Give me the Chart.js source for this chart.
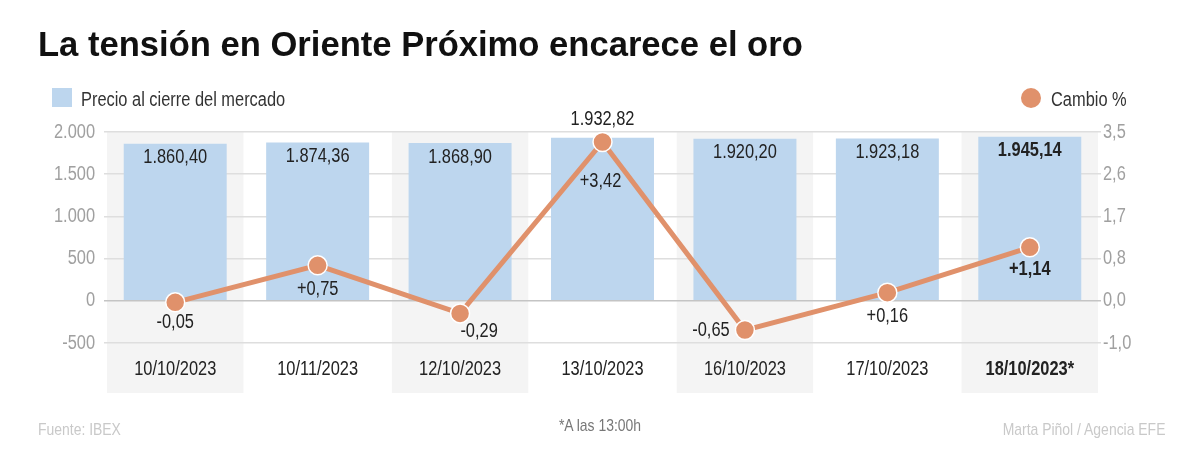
<!DOCTYPE html>
<html><head><meta charset="utf-8">
<script src="https://cdn.jsdelivr.net/npm/chart.js@4.4.1/dist/chart.umd.min.js"></script>
<style>
html,body{margin:0;padding:0;background:#fff}
body{width:1200px;height:450px;overflow:hidden;position:relative;font-family:"Liberation Sans",Arial,sans-serif}
#c{position:absolute;left:0;top:0}
.t{position:absolute;white-space:nowrap;line-height:1}
.n{transform:scaleX(0.82);transform-origin:left center}
.nr{transform:scaleX(0.82);transform-origin:right center}
.nc{transform:translateX(-50%) scaleX(0.82)}
</style></head><body>
<canvas id="c" width="1200" height="450"></canvas>
<div class="t" style="left:38px;top:27px;font-weight:bold;font-size:34.6px;color:#111">La tensión en Oriente Próximo encarece el oro</div>
<div class="t" style="left:52px;top:88px;width:20px;height:19px;background:#bdd6ee"></div>
<div class="t n" style="left:81px;top:89px;font-size:20px;color:#333">Precio al cierre del mercado</div>
<div class="t" style="left:1021px;top:88px;width:20px;height:20px;border-radius:50%;background:#e0916b"></div>
<div class="t n" style="left:1051px;top:89px;font-size:20px;color:#333">Cambio %</div>
<div class="t n" style="left:38px;top:421px;font-size:17px;color:#c9c9c9">Fuente: IBEX</div>
<div class="t nc" style="left:600px;top:417px;font-size:17px;color:#777">*A las 13:00h</div>
<div class="t nr" style="right:35px;top:421px;font-size:17px;color:#c9c9c9">Marta Piñol / Agencia EFE</div>
<script>
const categories = ["10/10/2023","10/11/2023","12/10/2023","13/10/2023","16/10/2023","17/10/2023","18/10/2023*"];
const closePrices = [1860.40, 1874.36, 1868.90, 1932.82, 1920.20, 1923.18, 1945.14];
const changePct = [-0.05, 0.75, -0.29, 3.42, -0.65, 0.16, 1.14];
const leftTickLabels = ["-500","0","500","1.000","1.500","2.000"];
const rightTickLabels = ["-1,0","0,0","0,8","1,7","2,6","3,5"];

const FONT = '"Liberation Sans",Arial,sans-serif';
const BAR = '#bdd6ee', LINE = '#e0916b';
const SX = 0.82;

function fmtPrice(v){
  const [i,d] = v.toFixed(2).split('.');
  return i.replace(/\B(?=(\d{3})+(?!\d))/g,'.') + ',' + d;
}
function fmtPct(v){
  const s = Math.abs(v).toFixed(2).replace('.',',');
  return (v < 0 ? '-' : '+') + s;
}
function narrowText(ctx, text, x, y, align, font, color){
  ctx.save();
  ctx.translate(x, y);
  ctx.scale(SX, 1);
  ctx.font = font;
  ctx.fillStyle = color;
  ctx.textAlign = align;
  ctx.textBaseline = 'middle';
  ctx.fillText(text, 0, 0);
  ctx.restore();
}

const bandPlugin = {
  id:'bands',
  beforeDraw(chart){
    const {ctx, chartArea} = chart;
    const x = chart.scales.x;
    const w = x.width / categories.length;
    ctx.save();
    ctx.fillStyle = '#f4f4f4';
    categories.forEach((c,i)=>{
      if (i % 2 === 0){
        const cx = x.getPixelForValue(i);
        ctx.fillRect(cx - w/2 + 3, chartArea.top, w - 6, 393 - chartArea.top);
      }
    });
    ctx.restore();
  }
};

const tickPlugin = {
  id:'narrowTicks',
  afterDraw(chart){
    const {ctx, chartArea} = chart;
    const last = categories.length - 1;
    const y = chart.scales.y, y1 = chart.scales.y1, x = chart.scales.x;
    y.ticks.forEach((t,i)=>{
      narrowText(ctx, leftTickLabels[i], chartArea.left - 9, y.getPixelForValue(t.value), 'right', '20px ' + FONT, '#a0a0a0');
    });
    y1.ticks.forEach((t,i)=>{
      narrowText(ctx, rightTickLabels[i], chartArea.right + 2, y1.getPixelForValue(t.value), 'left', '20px ' + FONT, '#a0a0a0');
    });
    categories.forEach((c,i)=>{
      narrowText(ctx, c, x.getPixelForValue(i), chartArea.bottom + 26, 'center', (i === last ? 'bold ' : '') + '20px ' + FONT, '#222');
    });
  }
};

const labelPlugin = {
  id:'labels',
  afterDatasetsDraw(chart){
    const {ctx} = chart;
    const last = categories.length - 1;
    const barMeta = chart.getDatasetMeta(1);
    barMeta.data.forEach((el,i)=>{
      const above = i === 3;
      narrowText(ctx, fmtPrice(closePrices[i]), el.x, above ? el.y - 18 : el.y + 14, 'center', (i === last ? 'bold ' : '') + '20px ' + FONT, '#222');
    });
    const off = [[0,20],[0,24],[19,18],[-2,40],[-34,0],[0,24],[0,22]];
    const lineMeta = chart.getDatasetMeta(0);
    lineMeta.data.forEach((el,i)=>{
      narrowText(ctx, fmtPct(changePct[i]), el.x + off[i][0], el.y + off[i][1], 'center', (i === last ? 'bold ' : '') + '20px ' + FONT, '#222');
    });
  }
};

const Y1MIN = -0.93, Y1MAX = 3.636;
const HIDDEN = 'rgba(0,0,0,0)';

new Chart(document.getElementById('c'), {
  data:{
    labels: categories,
    datasets:[
      {type:'line', label:'Cambio %', data: changePct, yAxisID:'y1', borderColor: LINE, borderWidth:5,
       pointRadius:9.5, pointHoverRadius:9.5, pointBackgroundColor: LINE, pointBorderColor:'#fff',
       pointBorderWidth:1.5, tension:0, order:0},
      {type:'bar', label:'Precio al cierre del mercado', data: closePrices, yAxisID:'y', backgroundColor: BAR,
       barPercentage:0.723, categoryPercentage:1, order:1}
    ]
  },
  options:{
    responsive:false, animation:false, devicePixelRatio:1,
    layout:{padding:{top:132, bottom:57, left:0, right:0}},
    plugins:{legend:{display:false}, tooltip:{enabled:false}},
    scales:{
      x:{
        grid:{display:false}, border:{display:false},
        ticks:{color:HIDDEN, font:{family:FONT, size:16}, padding:15, maxRotation:0},
        afterFit(s){ s.height = 50; }
      },
      y:{
        position:'left', min:-500, max:2000,
        ticks:{stepSize:500, color:HIDDEN, font:{family:FONT, size:16}, padding:9,
               callback:(v,i)=>leftTickLabels[i]},
        grid:{color:(c)=> c.tick && c.tick.value === 0 ? '#c4c4c4' : '#dedede', lineWidth:1.5, drawTicks:false},
        border:{display:false},
        afterFit(s){ s.width = 104; }
      },
      y1:{
        position:'right', min:Y1MIN, max:Y1MAX,
        afterBuildTicks(s){
          const n = rightTickLabels.length;
          s.ticks = rightTickLabels.map((l,i)=>({value: Y1MIN + (Y1MAX - Y1MIN) * i/(n-1)}));
        },
        ticks:{color:HIDDEN, font:{family:FONT, size:16}, padding:3,
               callback:(v,i)=>rightTickLabels[i]},
        grid:{display:false, drawTicks:false}, border:{display:false},
        afterFit(s){ s.width = 99; }
      }
    }
  },
  plugins:[bandPlugin, tickPlugin, labelPlugin]
});
</script>
</body></html>
